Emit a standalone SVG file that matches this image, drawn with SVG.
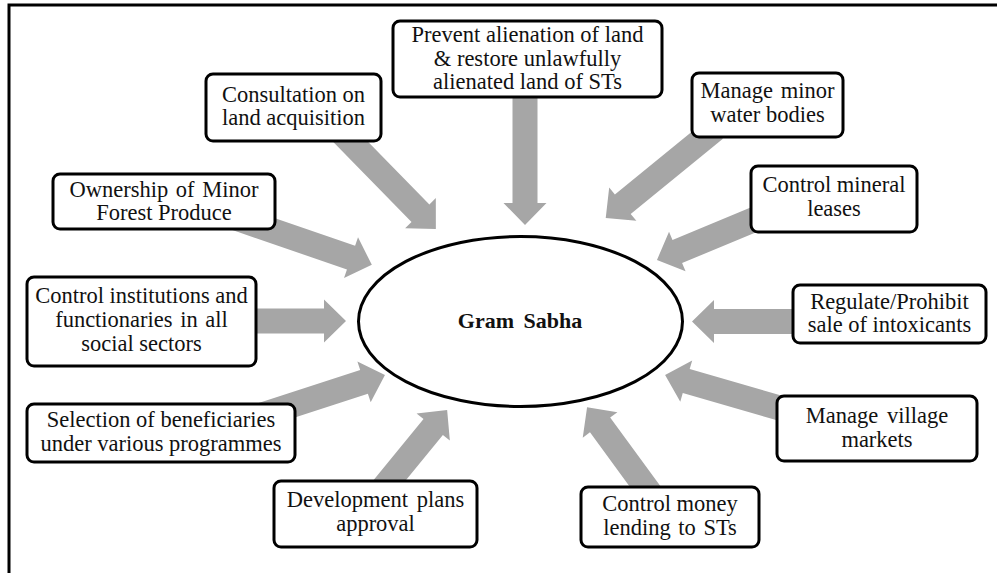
<svg xmlns="http://www.w3.org/2000/svg" width="997" height="573" viewBox="0 0 997 573">
  <style>
    .frame { fill: none; stroke: #000; stroke-width: 3; }
    .box { fill: #fff; stroke: #000; stroke-width: 3; }
    .hub { fill: #fff; stroke: #000; stroke-width: 3; }
    .arrow { fill: #a6a6a6; stroke: none; }
    .lbl { font-family: "Liberation Serif", "Times New Roman", serif; font-size: 22.5px; fill: #111; text-anchor: middle; }
    .hubtxt { font-family: "Liberation Serif", "Times New Roman", serif; font-size: 22px; font-weight: bold; fill: #111; text-anchor: middle; word-spacing: 4px; }
  </style>

  <rect width="997" height="573" fill="#fff"/>
  <!-- outer frame (top and left edges) -->
  <path class="frame" d="M9,573 V5 H997"/>

  <!-- block arrows, each drawn along +x then placed with translate/rotate -->
  <g id="connectors">
    <polygon class="arrow" transform="translate(525,90) rotate(90)" points="0,-12.5 113,-12.5 113,-21.5 135,0 113,21.5 113,12.5 0,12.5"/>
    <polygon class="arrow" transform="translate(340,131) rotate(45.6)" points="0,-12.5 115,-12.5 115,-21.5 137,0 115,21.5 115,12.5 0,12.5"/>
    <polygon class="arrow" transform="translate(230,216) rotate(19)" points="0,-12.5 128,-12.5 128,-21.5 150,0 128,21.5 128,12.5 0,12.5"/>
    <polygon class="arrow" transform="translate(240,321) rotate(0)" points="0,-12.5 84,-12.5 84,-21.5 106,0 84,21.5 84,12.5 0,12.5"/>
    <polygon class="arrow" transform="translate(242.3,421.4) rotate(-18)" points="0,-12.5 128,-12.5 128,-21.5 150,0 128,21.5 128,12.5 0,12.5"/>
    <polygon class="arrow" transform="translate(380,492) rotate(-50.7)" points="0,-12.5 84,-12.5 84,-21.5 106,0 84,21.5 84,12.5 0,12.5"/>
    <polygon class="arrow" transform="translate(655,500) rotate(-126.2)" points="0,-12.5 93,-12.5 93,-21.5 115,0 93,21.5 93,12.5 0,12.5"/>
    <polygon class="arrow" transform="translate(790,411) rotate(-163.9)" points="0,-12.5 108,-12.5 108,-21.5 130,0 108,21.5 108,12.5 0,12.5"/>
    <polygon class="arrow" transform="translate(805,321.5) rotate(180)" points="0,-12.5 91,-12.5 91,-21.5 113,0 91,21.5 91,12.5 0,12.5"/>
    <polygon class="arrow" transform="translate(765,215) rotate(157.4)" points="0,-12.5 95,-12.5 95,-21.5 117,0 95,21.5 95,12.5 0,12.5"/>
    <polygon class="arrow" transform="translate(715,129) rotate(140.8)" points="0,-12.5 119,-12.5 119,-21.5 141,0 119,21.5 119,12.5 0,12.5"/>
  </g>

  <!-- central node -->
  <g id="gram-sabha">
    <ellipse class="hub" cx="520.5" cy="321.5" rx="162" ry="85"/>
    <text class="hubtxt" x="520" y="328">Gram Sabha</text>
  </g>

  <g id="prevent-alienation">
    <rect class="box" x="393" y="21" width="269" height="76" rx="7"/>
    <text class="lbl" x="527.5" y="42">Prevent alienation of land</text>
    <text class="lbl" x="527.5" y="66">&amp; restore unlawfully</text>
    <text class="lbl" x="527.5" y="89">alienated land of STs</text>
  </g>

  <g id="land-acquisition">
    <rect class="box" x="206" y="74" width="175" height="67" rx="7"/>
    <text class="lbl" x="293.5" y="102">Consultation on</text>
    <text class="lbl" x="293.5" y="125">land acquisition</text>
  </g>

  <g id="minor-forest-produce">
    <rect class="box" x="53" y="174" width="222" height="55" rx="7"/>
    <text class="lbl" x="164" y="197" word-spacing="2">Ownership of Minor</text>
    <text class="lbl" x="164" y="220">Forest Produce</text>
  </g>

  <g id="social-sectors">
    <rect class="box" x="27" y="277" width="229" height="89" rx="7"/>
    <text class="lbl" x="141.5" y="303">Control institutions and</text>
    <text class="lbl" x="141.5" y="327" word-spacing="2">functionaries in all</text>
    <text class="lbl" x="141.5" y="351">social sectors</text>
  </g>

  <g id="beneficiaries">
    <rect class="box" x="27" y="404" width="268" height="58" rx="7"/>
    <text class="lbl" x="161" y="427">Selection of beneficiaries</text>
    <text class="lbl" x="161" y="451">under various programmes</text>
  </g>

  <g id="development-plans">
    <rect class="box" x="274" y="481" width="203" height="66" rx="7"/>
    <text class="lbl" x="375.5" y="507" word-spacing="3">Development plans</text>
    <text class="lbl" x="375.5" y="531">approval</text>
  </g>

  <g id="money-lending">
    <rect class="box" x="581" y="487" width="178" height="60" rx="7"/>
    <text class="lbl" x="670" y="511">Control money</text>
    <text class="lbl" x="670" y="535" word-spacing="2">lending to STs</text>
  </g>

  <g id="village-markets">
    <rect class="box" x="777" y="396" width="200" height="65" rx="7"/>
    <text class="lbl" x="877" y="423" word-spacing="3">Manage village</text>
    <text class="lbl" x="877" y="447">markets</text>
  </g>

  <g id="intoxicants">
    <rect class="box" x="793" y="285" width="193" height="58" rx="7"/>
    <text class="lbl" x="889.5" y="309">Regulate/Prohibit</text>
    <text class="lbl" x="889.5" y="332">sale of intoxicants</text>
  </g>

  <g id="mineral-leases">
    <rect class="box" x="751" y="166" width="166" height="66" rx="7"/>
    <text class="lbl" x="834" y="192">Control mineral</text>
    <text class="lbl" x="834" y="216">leases</text>
  </g>

  <g id="water-bodies">
    <rect class="box" x="692" y="73" width="151" height="64" rx="7"/>
    <text class="lbl" x="767.5" y="98" word-spacing="2">Manage minor</text>
    <text class="lbl" x="767.5" y="122">water bodies</text>
  </g>
</svg>
